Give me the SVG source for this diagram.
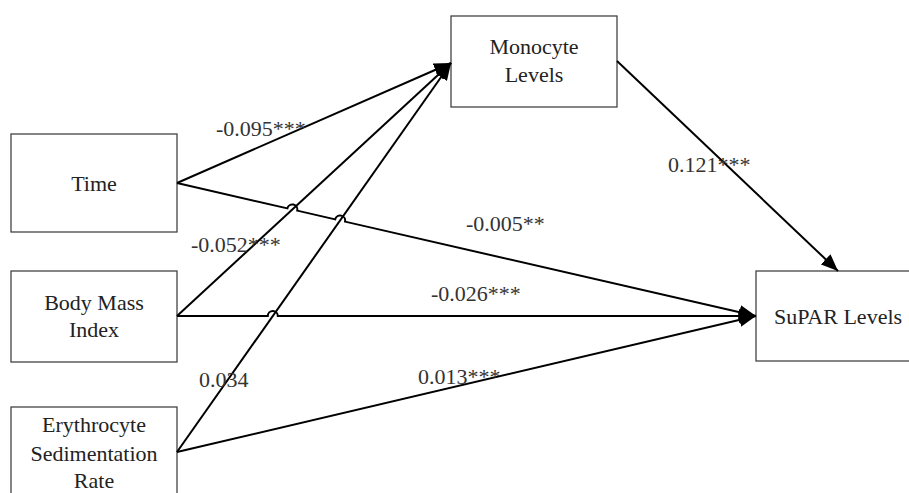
<svg xmlns="http://www.w3.org/2000/svg" width="909" height="493" viewBox="0 0 909 493">
<style>
.box{fill:#fff;stroke:#444;stroke-width:1.3}
text{font-family:'Liberation Serif','DejaVu Serif',serif;font-size:22px}
.t{fill:#222;text-anchor:middle}
.lbl{fill:#333}
.c{fill:none;stroke:#000;stroke-width:2;marker-end:url(#ah)}
</style>
<defs>
<marker id="ah" markerUnits="userSpaceOnUse" markerWidth="18" markerHeight="14" refX="17" refY="7" orient="auto">
<path d="M0,0 L17,7 L0,14 Z" fill="#000"/>
</marker>
</defs>
<rect width="909" height="493" fill="#fff"/>
<g id="node-time"><rect class="box" x="11" y="134" width="166" height="98"/><text class="t" x="94" y="191">Time</text></g>
<g id="node-bmi"><rect class="box" x="11" y="271" width="166" height="91"/><text class="t" x="94" y="310">Body Mass</text><text class="t" x="94" y="337">Index</text></g>
<g id="node-esr"><rect class="box" x="11" y="407" width="166" height="100"/><text class="t" x="94" y="432">Erythrocyte</text><text class="t" x="94" y="461">Sedimentation</text><text class="t" x="94" y="488">Rate</text></g>
<g id="node-monocyte"><rect class="box" x="451" y="16" width="166" height="91"/><text class="t" x="534" y="54">Monocyte</text><text class="t" x="534" y="82">Levels</text></g>
<g id="node-supar"><rect class="box" x="756" y="271" width="166" height="90"/><text class="t" x="838" y="324">SuPAR Levels</text></g>
<g id="connectors">
<path class="c" d="M177,183 L451,63"/>
<path class="c" d="M177,316 L451,63"/>
<path class="c" d="M177,452 L451,63"/>
<path class="c" d="M177,183 L287.4,208.4 A5,5 0 0 1 297.2,210.6 L335.2,219.4 A5,5 0 0 1 345,221.6 L756,316"/>
<path class="c" d="M177,316 L267.8,316 A5,5 0 0 1 277.8,316 L756,316"/>
<path class="c" d="M177,452 L756,316"/>
<path class="c" d="M617,61 L838,271"/>
</g>
<g id="labels">
<text class="lbl" x="216" y="136">-0.095***</text>
<text class="lbl" x="191" y="252">-0.052***</text>
<text class="lbl" x="199" y="387">0.034</text>
<text class="lbl" x="668" y="172">0.121***</text>
<text class="lbl" x="466" y="231">-0.005**</text>
<text class="lbl" x="431" y="301">-0.026***</text>
<text class="lbl" x="418" y="384">0.013***</text>
</g>
</svg>
